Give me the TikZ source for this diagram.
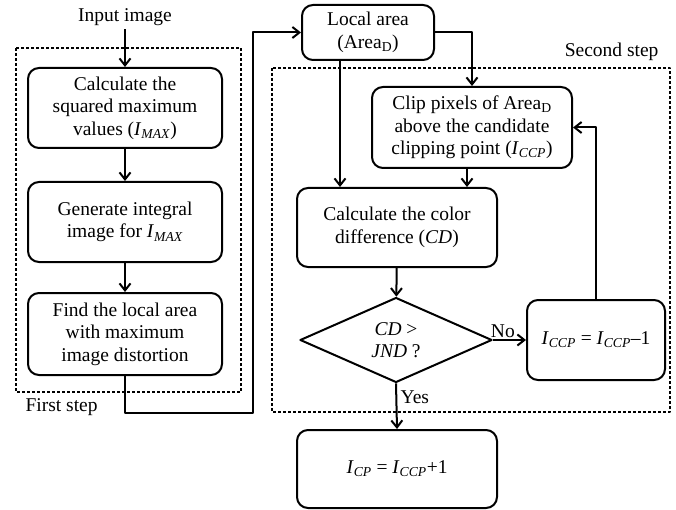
\documentclass[tikz,border=0pt]{standalone}
\usepackage{fontspec}
\setmainfont{Liberation Serif}
\usetikzlibrary{shapes.geometric,arrows.meta}
\newcommand{\ivar}[2]{\textit{#1}\textsubscript{\textit{#2}}}
\begin{document}
\begin{tikzpicture}[x=1pt,y=-1pt,>={Straight Barb[length=7pt,width=11pt]},
	line join=round,
	box/.style={draw,line width=2pt,rounded corners=11pt,align=center,inner sep=2pt},
	decision/.style={draw,line width=2pt,diamond,inner sep=0pt,align=center},
	frame/.style={draw,line width=1.1pt,dash pattern=on 3pt off 2pt},
	link/.style={->,line width=2pt},
	font=\fontsize{19.5}{22.5}\selectfont]
	\useasboundingbox (0,0) rectangle (676,510);
	% First step
	\draw[frame] (16,48) rectangle (241,392);
	\node[anchor=west] (lab1) at (22,407) {First step};
	\node (input) at (125,17) {Input image};
	\node[box,minimum width=194pt,minimum height=80pt] (imax) at (125,108)
		{Calculate the\\squared maximum\\values (\ivar{I}{MAX})};
	\node[box,minimum width=194pt,minimum height=80pt] (integral) at (125,222)
		{Generate integral\\image for \ivar{I}{MAX}};
	\node[box,minimum width=194pt,minimum height=82pt] (findarea) at (125,334)
		{Find the local area\\with maximum\\image distortion};
	\coordinate (bend) at (253,413);
	% Second step
	\draw[frame] (272,68) rectangle (670,412);
	\node[anchor=east] (lab2) at (662,52) {Second step};
	\node[box,minimum width=132pt,minimum height=55pt] (local) at (368,32.5)
		{Local area\\(Area\textsubscript{D})};
	\node[box,minimum width=200pt,minimum height=81pt] (clip) at (472,127.5)
		{Clip pixels of Area\textsubscript{D}\\above the candidate\\clipping point (\ivar{I}{CCP})};
	\node[box,minimum width=200pt,minimum height=79pt] (color) at (397,227.5)
		{Calculate the color\\difference (\textit{CD})};
	\node[decision,minimum width=192pt,minimum height=80pt] (test) at (396,340)
		{\textit{CD} >\\\textit{JND} ?};
	\node[box,minimum width=138pt,minimum height=80pt] (dec) at (596,340)
		{\ivar{I}{CCP} = \ivar{I}{CCP}–1};
	\node[box,minimum width=200pt,minimum height=78pt] (final) at (397,469)
		{\ivar{I}{CP} = \ivar{I}{CCP}+1};

	\draw[link] (input) -- (imax);
	\draw[link] (imax) -- (integral);
	\draw[link] (integral) -- (findarea);
	\draw[link] (findarea.south) |- (bend) |- (local.west);
	\draw[link] (local.east) -| (clip.north);
	\draw[link] ([xshift=-28pt]local.south) -- ([xshift=-28pt]local.south |- color.north);
	\draw[link] ([xshift=-5pt]clip.south) -- ([xshift=-5pt]clip.south |- color.north);
	\draw[link] (color) -- (test);
	\draw[link] (test.east) -- node[above,pos=0.3,inner sep=1pt] {No} (dec.west);
	\draw[link] (dec.north) |- (clip.east);
	\draw[link] (test.south) -- node[right,pos=0.3] {Yes} (final.north);
\end{tikzpicture}
\end{document}
